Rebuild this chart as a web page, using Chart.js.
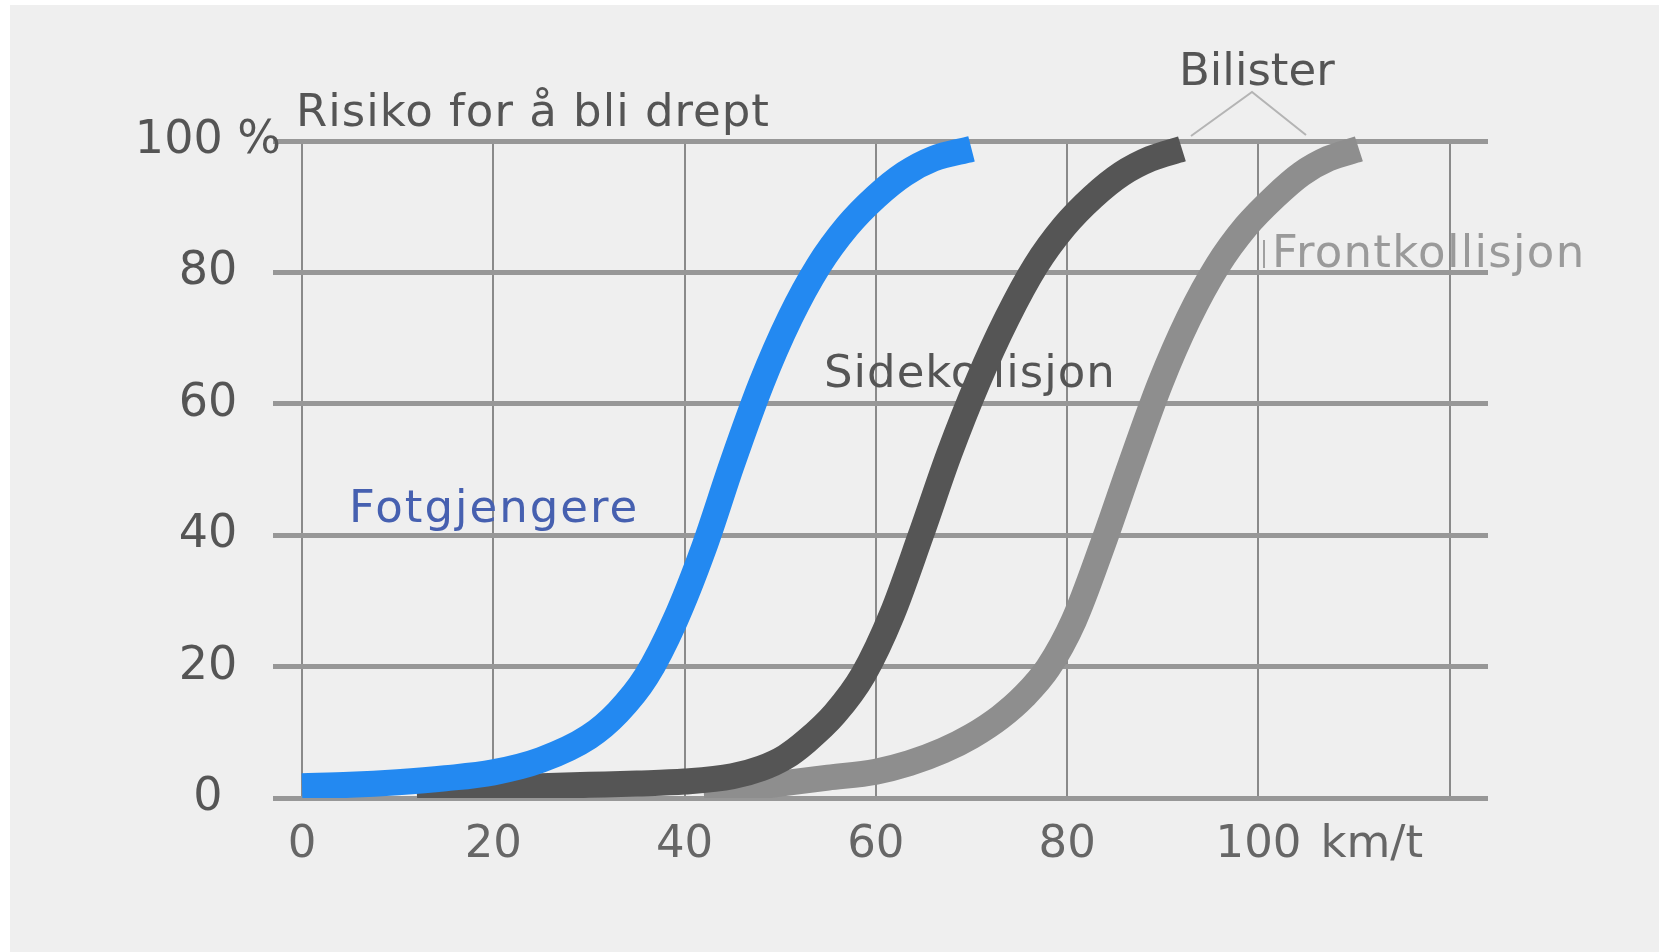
<!DOCTYPE html>
<html>
<head>
<meta charset="utf-8">
<script src="https://cdn.jsdelivr.net/npm/chart.js@4.4.1/dist/chart.umd.min.js"></script>
<style>
html,body{margin:0;padding:0;background:#fff;overflow:hidden}
#wrap{width:1659px;height:952px;position:relative}
</style>
</head>
<body>
<div id="wrap"><canvas id="c"></canvas></div>
<script>
// ---- data (speed km/t -> risk %) ----
const speedTickValues = [0, 20, 40, 60, 80, 100, 120];
const riskTickValues = [0, 20, 40, 60, 80, 100];

const fotgjengereSpeed = [0, 5, 10, 15, 20, 25, 30, 33, 36, 39, 42, 45, 48, 51, 54, 57, 60, 63, 66, 70];
const fotgjengereRisk  = [1.8, 2.0, 2.4, 3.0, 3.9, 5.8, 9.3, 13, 18.5, 27, 38, 51, 63, 73, 81, 87, 91.5, 95, 97.3, 98.8];

const sideSpeed = [12, 20, 25, 30, 35, 40, 45, 48, 50.5, 52.7, 55.7, 58.7, 61.7, 64.7, 67.7, 70.7, 73.7, 76.7, 79.7, 82.7, 85.7, 88.7, 92];
const sideRisk  = [1.0, 1.5, 1.8, 2.0, 2.2, 2.5, 3.3, 4.5, 6.2, 8.6, 12.8, 18.8, 28, 40, 52.5, 63.5, 73, 81, 87, 91.5, 95, 97.3, 98.8];

const frontSpeed = [42, 46, 50, 55, 60, 63.5, 67, 70, 73, 75.5, 78, 80.7, 83.7, 86.7, 89.7, 92.7, 95.7, 98.7, 101.7, 104.5, 107.3, 110.5];
const frontRisk  = [0.8, 1.4, 2.2, 3.1, 4.0, 5.3, 7.2, 9.4, 12.3, 15.5, 19.8, 27, 38.5, 51, 63, 73, 81, 87, 91.5, 95, 97.3, 98.8];

const FONT = "'DejaVu Sans', sans-serif";
const X_TICK_PAD = 20;

function pts(xs, ys){ return xs.map((x,i)=>({x:x, y:ys[i]})); }

const annotations = [
  {t:'Risiko for å bli drept', x:296, y:126, c:'#555555', ls:1},
  {t:'Bilister', x:1179, y:85, c:'#555555', ls:0},
  {t:'Frontkollisjon', x:1272, y:267, c:'#9a9a9a', ls:1.3},
  {t:'Sidekollisjon', x:824, y:387, c:'#555555', ls:1},
  {t:'Fotgjengere', x:349, y:522, c:'#4660b0', ls:2}
];

const annotPlugin = {
  id:'annot',
  beforeDraw(chart){
    const ctx = chart.ctx;
    ctx.save();
    ctx.fillStyle = '#ffffff';
    ctx.fillRect(0,0,chart.width,chart.height);
    ctx.fillStyle = '#efefef';
    ctx.fillRect(10,5,chart.width-10,chart.height-5);
    ctx.restore();
  },
  beforeDatasetsDraw(chart){
    const ctx = chart.ctx;
    ctx.save();
    ctx.font = '45px ' + FONT;
    ctx.textBaseline = 'alphabetic';
    ctx.textAlign = 'left';
    annotations.forEach(a=>{
      ctx.letterSpacing = a.ls + 'px';
      ctx.fillStyle = a.c;
      ctx.fillText(a.t, a.x, a.y);
    });
    ctx.letterSpacing = '0px';
    // bracket for "Bilister"
    ctx.strokeStyle = '#b4b4b4';
    ctx.lineWidth = 2;
    ctx.beginPath();
    ctx.moveTo(1191,136); ctx.lineTo(1252,92); ctx.lineTo(1306,135);
    ctx.stroke();
    // small leader for "Frontkollisjon"
    ctx.strokeStyle = '#a0a0a0';
    ctx.beginPath();
    ctx.moveTo(1264,240); ctx.lineTo(1264,268);
    ctx.stroke();
    // unit after the 100 tick on x axis
    const xs = chart.scales.x;
    ctx.fillStyle = '#666666';
    ctx.textBaseline = 'middle';
    const yMid = chart.chartArea.bottom + X_TICK_PAD + 45*1.2/2;
    ctx.fillText('km/t', xs.getPixelForValue(100) + 62, yMid);
    ctx.restore();
  }
};

new Chart(document.getElementById('c'), {
  type:'line',
  data:{
    datasets:[
      {label:'Fotgjengere', data:pts(fotgjengereSpeed, fotgjengereRisk), borderColor:'#2389f1'},
      {label:'Sidekollisjon', data:pts(sideSpeed, sideRisk), borderColor:'#555555'},
      {label:'Frontkollisjon', data:pts(frontSpeed, frontRisk), borderColor:'#8e8e8e'}
    ].map(d=>Object.assign(d,{
      borderWidth:26, pointRadius:0, pointHoverRadius:0, fill:false,
      cubicInterpolationMode:'monotone', borderCapStyle:'butt', borderJoinStyle:'round',
      clip:{left:false, top:false, right:false, bottom:0}
    }))
  },
  options:{
    responsive:true,
    maintainAspectRatio:false,
    animation:false,
    events:[],
    layout:{padding:{left:0, right:171, top:141, bottom:0}},
    plugins:{legend:{display:false}, tooltip:{enabled:false}, title:{display:false}},
    scales:{
      x:{
        type:'linear', min:0, max:124,
        afterFit(s){ s.height = 154; },
        afterBuildTicks(s){ s.ticks = speedTickValues.map(v=>({value:v})); },
        border:{display:false},
        grid:{color:'#8a8a8a', lineWidth:2, drawTicks:false},
        ticks:{
          includeBounds:false, stepSize:20, padding:X_TICK_PAD, maxRotation:0, autoSkip:false,
          color:'#666666', font:{family:FONT, size:45},
          callback:(v)=> (v===120 ? '' : String(v))
        }
      },
      y:{
        type:'linear', min:0, max:100,
        afterFit(s){ s.width = 302; },
        afterBuildTicks(s){ s.ticks = riskTickValues.map(v=>({value:v})); },
        border:{display:false},
        grid:{color:'#979797', lineWidth:5, drawTicks:true, tickLength:29},
        ticks:{
          stepSize:20, padding:-8, crossAlign:'center',
          color:'#555555', font:{family:FONT, size:46},
          callback:(v)=> (v===100 ? '100 %' : String(v))
        }
      }
    }
  },
  plugins:[annotPlugin]
});
</script>
</body>
</html>
